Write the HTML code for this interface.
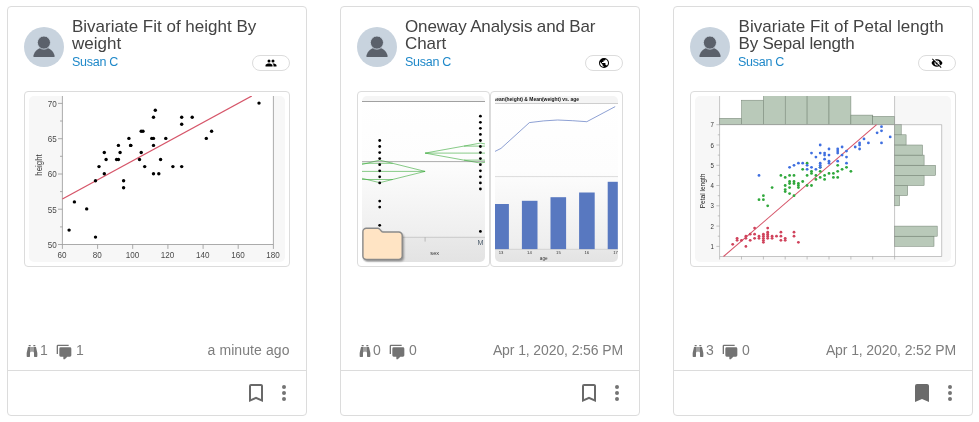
<!DOCTYPE html>
<html lang="en">
<head>
<meta charset="utf-8">
<title>Posts</title>
<style>
*{box-sizing:border-box}
html,body{margin:0;padding:0;background:#fff}
body{width:979px;height:422px;overflow:hidden;position:relative;font-family:"Liberation Sans",sans-serif;color:#333}
.card{position:absolute;top:6px;width:300px;height:410px;border:1px solid #dcdcdc;border-radius:4px;background:#fff}
.card>*{position:absolute}
.avatar{left:16px;top:20px;width:40px;height:40px}
.avatar svg{display:block}
.title{left:64px;top:11px;margin:0;font-size:17px;line-height:17px;font-weight:400;color:#434343;white-space:nowrap}
.title span{display:block}
.author{left:64px;top:48px;font-size:12.5px;letter-spacing:-0.27px;line-height:15px;color:#1e88c9;white-space:nowrap}
.badge{left:244px;top:48px;width:38px;height:16px;border:1px solid #dcdcdc;border-radius:8px}
.badge svg{position:absolute;left:12px;top:1px}
.thumb{top:84px;height:176px;border:1px solid #dcdcdc;border-radius:4px;overflow:hidden;background:#fff}
.thumb .img{position:absolute;left:4px;top:4px}
.folder{position:absolute;left:0px;top:132px}
.stats{left:16px;top:334px;width:266px;height:20px;font-size:14px;line-height:20px;color:#7d7d7d}
.stats>*{position:absolute;top:-1px;white-space:nowrap}
.stats svg{display:block}
.foot{left:0;top:363px;width:298px;height:44px;border-top:1px solid #dcdcdc}
.foot svg{position:absolute}
</style>
</head>
<body>
<div class="card" style="left:7px">
<div class="avatar"><svg viewBox="0 0 24 24" width="40" height="40"><circle cx="12" cy="12" r="12" fill="#c8d3de"/><path fill="#5b616b" d="M5.6 17.4C6.2 14.6 9 12.2 12 12.2C15 12.2 17.8 14.6 18.4 17.4Q18.5 17.95 17.9 17.95H6.1Q5.5 17.95 5.6 17.4Z"/><circle cx="11.95" cy="9.35" r="3.95" fill="#5b616b" stroke="#c8d3de" stroke-width="0.55"/></svg></div>
<h3 class="title" style="left:64px"><span style="letter-spacing:0px">Bivariate Fit of height By</span><span style="letter-spacing:0px">weight</span></h3>
<div class="author">Susan C</div>
<div class="badge"><svg viewBox="0 0 24 24" width="12" height="12"><path d="M16 13C15.71 13 15.38 13 15.03 13.05C16.19 13.89 17 15 17 16.5V19H23V16.5C23 14.17 18.33 13 16 13M8 13C5.67 13 1 14.17 1 16.5V19H15V16.5C15 14.17 10.33 13 8 13M8 11A3 3 0 0 0 11 8A3 3 0 0 0 8 5A3 3 0 0 0 5 8A3 3 0 0 0 8 11M16 11A3 3 0 0 0 19 8A3 3 0 0 0 16 5A3 3 0 0 0 13 8A3 3 0 0 0 16 11Z"/></svg></div>
<div class="thumb" style="left:16px;width:266px"><svg class="img" width="256" height="166" viewBox="0 0 256 166">
<rect x="0" y="0" width="256" height="166" rx="5" fill="#f7f7f7"/>
<rect x="33.4" y="0" width="211.0" height="148.5" fill="#fff"/>
<path d="M33.4 0V148.5H244.4V0M29.0 148.5H33.4M29.0 113.2H33.4M29.0 78.0H33.4M29.0 42.7H33.4M29.0 7.4H33.4M31.0 130.9H33.4M31.0 95.6H33.4M31.0 60.3H33.4M31.0 25.0H33.4M33.4 148.5V152.9M68.6 148.5V152.9M103.7 148.5V152.9M138.9 148.5V152.9M174.1 148.5V152.9M209.2 148.5V152.9M244.4 148.5V152.9" stroke="#979797" stroke-width="0.8" fill="none"/>
<g font-family="'Liberation Sans',sans-serif" font-size="9.2" fill="#4a4a4a">
<text transform="translate(27.8 151.8) scale(0.88 1)" text-anchor="end">50</text>
<text transform="translate(27.8 116.5) scale(0.88 1)" text-anchor="end">55</text>
<text transform="translate(27.8 81.2) scale(0.88 1)" text-anchor="end">60</text>
<text transform="translate(27.8 46.0) scale(0.88 1)" text-anchor="end">65</text>
<text transform="translate(27.8 10.7) scale(0.88 1)" text-anchor="end">70</text>
<text transform="translate(33.1 161.8) scale(0.88 1)" text-anchor="middle">60</text>
<text transform="translate(68.3 161.8) scale(0.88 1)" text-anchor="middle">80</text>
<text transform="translate(103.4 161.8) scale(0.88 1)" text-anchor="middle">100</text>
<text transform="translate(138.6 161.8) scale(0.88 1)" text-anchor="middle">120</text>
<text transform="translate(173.8 161.8) scale(0.88 1)" text-anchor="middle">140</text>
<text transform="translate(208.9 161.8) scale(0.88 1)" text-anchor="middle">160</text>
<text transform="translate(244.1 161.8) scale(0.88 1)" text-anchor="middle">180</text>
<text transform="translate(12.6 69.0) rotate(-90) scale(0.95 1)" text-anchor="middle" fill="#333" font-size="8.3">height</text>
</g>
<path d="M33.4 103.0L222.8 -0.0" stroke="#d6566a" stroke-width="1.3" fill="none"/>
<circle cx="94.6" cy="84.7" r="1.7"/>
<circle cx="143.9" cy="70.6" r="1.7"/>
<circle cx="57.7" cy="112.9" r="1.7"/>
<circle cx="182.6" cy="35.3" r="1.7"/>
<circle cx="40.1" cy="134.1" r="1.7"/>
<circle cx="75.3" cy="77.7" r="1.7"/>
<circle cx="152.7" cy="70.6" r="1.7"/>
<circle cx="66.5" cy="141.1" r="1.7"/>
<circle cx="124.5" cy="77.7" r="1.7"/>
<circle cx="115.7" cy="70.6" r="1.7"/>
<circle cx="45.4" cy="105.9" r="1.7"/>
<circle cx="99.9" cy="42.4" r="1.7"/>
<circle cx="112.2" cy="56.5" r="1.7"/>
<circle cx="94.6" cy="91.8" r="1.7"/>
<circle cx="66.5" cy="84.7" r="1.7"/>
<circle cx="70.0" cy="70.6" r="1.7"/>
<circle cx="87.6" cy="63.5" r="1.7"/>
<circle cx="177.3" cy="42.4" r="1.7"/>
<circle cx="75.3" cy="56.5" r="1.7"/>
<circle cx="77.1" cy="63.5" r="1.7"/>
<circle cx="91.1" cy="56.5" r="1.7"/>
<circle cx="101.7" cy="49.4" r="1.7"/>
<circle cx="136.8" cy="42.4" r="1.7"/>
<circle cx="89.4" cy="49.4" r="1.7"/>
<circle cx="124.5" cy="21.2" r="1.7"/>
<circle cx="101.7" cy="49.4" r="1.7"/>
<circle cx="126.3" cy="14.2" r="1.7"/>
<circle cx="89.4" cy="63.5" r="1.7"/>
<circle cx="124.5" cy="49.4" r="1.7"/>
<circle cx="152.7" cy="28.3" r="1.7"/>
<circle cx="122.8" cy="42.4" r="1.7"/>
<circle cx="112.2" cy="35.3" r="1.7"/>
<circle cx="110.5" cy="63.5" r="1.7"/>
<circle cx="114.0" cy="35.3" r="1.7"/>
<circle cx="124.5" cy="42.4" r="1.7"/>
<circle cx="129.8" cy="77.7" r="1.7"/>
<circle cx="152.7" cy="21.2" r="1.7"/>
<circle cx="131.6" cy="63.5" r="1.7"/>
<circle cx="163.2" cy="21.2" r="1.7"/>
<circle cx="230.0" cy="7.1" r="1.7"/>
</svg></div>
<div class="stats">
<span style="left:-0.5px;top:2px"><svg viewBox="0 0 24 24" width="16" height="16"><path fill="#737373" d="M11 6H13V13H11V6M9 20A1 1 0 0 1 8 21H5A1 1 0 0 1 4 20V15L6 6H10V13A1 1 0 0 1 9 14V20M10 5H7V3H10V5M15 20V14A1 1 0 0 1 14 13V6H18L20 15V20A1 1 0 0 1 19 21H16A1 1 0 0 1 15 20M14 5V3H17V5H14Z"/></svg></span><span style="left:16px">1</span>
<span style="left:32px;top:3px"><svg viewBox="0 0 24 24" width="16" height="16"><path fill="#737373" d="M12 23A1 1 0 0 1 11 22V19H7A2 2 0 0 1 5 17V7A2 2 0 0 1 7 5H21A2 2 0 0 1 23 7V17A2 2 0 0 1 21 19H16.9L13.2 22.71C13 22.89 12.76 23 12.5 23H12M3 15H1V3A2 2 0 0 1 3 1H19V3H3V15Z"/></svg></span><span style="left:52px">1</span>
<span style="right:0.5px;letter-spacing:0.08px">a minute ago</span>
</div>
<div class="foot"><span style="position:absolute;left:236px;top:10px"><svg viewBox="0 0 24 24" width="24" height="24"><path fill="#696969" d="M17 18L12 15.82L7 18V5H17M17 3H7A2 2 0 0 0 5 5V21L12 18L19 21V5C19 3.89 18.1 3 17 3Z"/></svg></span><span style="position:absolute;left:264px;top:10px"><svg viewBox="0 0 24 24" width="24" height="24"><path fill="#747474" d="M12 16A2 2 0 0 1 14 18A2 2 0 0 1 12 20A2 2 0 0 1 10 18A2 2 0 0 1 12 16M12 10A2 2 0 0 1 14 12A2 2 0 0 1 12 14A2 2 0 0 1 10 12A2 2 0 0 1 12 10M12 4A2 2 0 0 1 14 6A2 2 0 0 1 12 8A2 2 0 0 1 10 6A2 2 0 0 1 12 4Z"/></svg></span></div>
</div>
<div class="card" style="left:340px">
<div class="avatar"><svg viewBox="0 0 24 24" width="40" height="40"><circle cx="12" cy="12" r="12" fill="#c8d3de"/><path fill="#5b616b" d="M5.6 17.4C6.2 14.6 9 12.2 12 12.2C15 12.2 17.8 14.6 18.4 17.4Q18.5 17.95 17.9 17.95H6.1Q5.5 17.95 5.6 17.4Z"/><circle cx="11.95" cy="9.35" r="3.95" fill="#5b616b" stroke="#c8d3de" stroke-width="0.55"/></svg></div>
<h3 class="title" style="left:64px"><span style="letter-spacing:-0.145px">Oneway Analysis and Bar</span><span style="letter-spacing:-0.1px">Chart</span></h3>
<div class="author">Susan C</div>
<div class="badge"><svg viewBox="0 0 24 24" width="12" height="12"><path d="M17.9 17.39C17.64 16.59 16.89 16 16 16H15V13A1 1 0 0 0 14 12H8V10H10A1 1 0 0 0 11 9V7H13A2 2 0 0 0 15 5V4.59C17.93 5.77 20 8.64 20 12C20 14.08 19.200000000000003 15.97 17.9 17.39M11 19.93C7.05 19.44 4 16.08 4 12C4 11.38 4.08 10.780000000000001 4.21 10.21L9 15V16A2 2 0 0 0 11 18M12 2A10 10 0 0 0 2 12A10 10 0 0 0 12 22A10 10 0 0 0 22 12A10 10 0 0 0 12 2Z"/></svg></div>
<div class="thumb" style="left:16px;width:133px"><svg class="img" width="123" height="166" viewBox="0 0 123 166">
<defs><linearGradient id="g2a" x1="0" y1="0" x2="0" y2="1"><stop offset="0" stop-color="#ffffff"/><stop offset="0.4" stop-color="#fdfdfd"/><stop offset="0.85" stop-color="#eeeeee"/><stop offset="1" stop-color="#e8e8e8"/></linearGradient><clipPath id="c2a"><rect x="0" y="0" width="123" height="166" rx="5"/></clipPath></defs>
<g clip-path="url(#c2a)">
<rect x="0" y="0" width="123" height="166" fill="url(#g2a)"/>
<rect x="0" y="0" width="123" height="5.5" fill="#f5f5f5"/>
<rect x="0" y="141.3" width="123" height="25" fill="#000" opacity="0.02"/>
<path d="M0 5.5H123" stroke="#8a8a8a" stroke-width="0.8"/>
<path d="M0 65.6H123" stroke="#8a8a8a" stroke-width="0.7"/>
<path d="M30 141.3H123" stroke="#c0c0c0" stroke-width="0.8"/><path d="M63.1 141.3v4.3" stroke="#999" stroke-width="0.6"/>
<g fill="none" stroke="#38a838" stroke-width="0.6">
<path d="M-27.7 75.4L17.7 64.1L63.1 75.4L17.7 86.7Z"/><path d="M0 75.4H63.1M0 67.3H30.7M0 83.5H30.7"/>
<path d="M63.1 57.1L118.4 47.1L173.7 57.1L118.4 67.1Z"/><path d="M63.1 57.1H123M102 50.1H123M102 64.1H123"/>
</g>
<circle cx="17.7" cy="44.5" r="1.4"/>
<circle cx="17.7" cy="50.5" r="1.4"/>
<circle cx="17.7" cy="56.6" r="1.4"/>
<circle cx="17.7" cy="62.6" r="1.4"/>
<circle cx="17.7" cy="68.7" r="1.4"/>
<circle cx="17.7" cy="74.8" r="1.4"/>
<circle cx="17.7" cy="80.8" r="1.4"/>
<circle cx="17.7" cy="86.9" r="1.4"/>
<circle cx="17.7" cy="105.1" r="1.4"/>
<circle cx="17.7" cy="111.1" r="1.4"/>
<circle cx="17.7" cy="129.3" r="1.4"/>
<circle cx="118.4" cy="20.2" r="1.4"/>
<circle cx="118.4" cy="26.3" r="1.4"/>
<circle cx="118.4" cy="32.3" r="1.4"/>
<circle cx="118.4" cy="38.4" r="1.4"/>
<circle cx="118.4" cy="44.5" r="1.4"/>
<circle cx="118.4" cy="50.5" r="1.4"/>
<circle cx="118.4" cy="56.6" r="1.4"/>
<circle cx="118.4" cy="62.6" r="1.4"/>
<circle cx="118.4" cy="68.7" r="1.4"/>
<circle cx="118.4" cy="74.8" r="1.4"/>
<circle cx="118.4" cy="80.8" r="1.4"/>
<circle cx="118.4" cy="86.9" r="1.4"/>
<circle cx="118.4" cy="93.0" r="1.4"/>
<circle cx="118.4" cy="135.4" r="1.4"/>
<g font-family="'Liberation Sans',sans-serif" text-anchor="middle">
<text x="118.4" y="149.4" font-size="7.2" fill="#4a5a6a">M</text>
<text x="72.7" y="158.8" font-size="5.6" fill="#333">sex</text>
</g>
</g></svg><svg class="folder" width="52" height="42" viewBox="0 0 52 42"><defs><filter id="fs" x="-20%" y="-20%" width="150%" height="150%"><feGaussianBlur stdDeviation="1.2"/></filter></defs><path d="M8.4 4.2H19.6Q20.8 4.2 21.6 5.1L23.3 7.1Q24 8 25.2 8H40.7A3.5 3.5 0 0 1 44.2 11.5V32A3.5 3.5 0 0 1 40.7 35.5H8.4A3.5 3.5 0 0 1 4.9 32V7.7A3.5 3.5 0 0 1 8.4 4.2Z" fill="#000" opacity=".4" filter="url(#fs)" transform="translate(1.6 1.8)"/><path d="M8.4 4.2H19.6Q20.8 4.2 21.6 5.1L23.3 7.1Q24 8 25.2 8H40.7A3.5 3.5 0 0 1 44.2 11.5V32A3.5 3.5 0 0 1 40.7 35.5H8.4A3.5 3.5 0 0 1 4.9 32V7.7A3.5 3.5 0 0 1 8.4 4.2Z" fill="#ffe4c4" stroke="#8a8a8a" stroke-width="1.4"/></svg></div><div class="thumb" style="left:149px;width:133px"><svg class="img" width="123" height="166" viewBox="0 0 123 166">
<defs><linearGradient id="g2b" x1="0" y1="0" x2="0" y2="1"><stop offset="0" stop-color="#ffffff"/><stop offset="0.45" stop-color="#fdfdfd"/><stop offset="0.9" stop-color="#eeeeee"/><stop offset="1" stop-color="#e8e8e8"/></linearGradient><clipPath id="c2b"><rect x="0" y="0" width="123" height="166" rx="5"/></clipPath></defs>
<g clip-path="url(#c2b)">
<rect x="0" y="0" width="123" height="166" fill="url(#g2b)"/>
<rect x="0" y="0" width="123" height="7.5" fill="#f4f4f4"/>
<rect x="0" y="153.1" width="123" height="13" fill="#000" opacity="0.02"/>
<path d="M0 7.5H123" stroke="#b0b0b0" stroke-width="0.6"/>
<path d="M0 80.6H123" stroke="#c4c4c4" stroke-width="0.6"/>
<path d="M0 153.3H123" stroke="#c4c4c4" stroke-width="0.6"/>
<path d="M0 55.4L6 52.4L34.4 26.6L48.7 24.9L62.6 24L77.5 24.7L91.8 25.7L120.2 10.6" fill="none" stroke="#5b77c0" stroke-width="0.7"/>
<rect x="0" y="108" width="13.9" height="45.1" fill="#5878c0"/>
<rect x="26.9" y="104.8" width="15.6" height="48.3" fill="#5878c0"/>
<rect x="55.5" y="101.2" width="15.6" height="51.9" fill="#5878c0"/>
<rect x="84.1" y="96.5" width="15.6" height="56.6" fill="#5878c0"/>
<rect x="112.7" y="85.8" width="10.1" height="67.3" fill="#5878c0"/>
<g font-family="'Liberation Sans',sans-serif" font-size="4.2" fill="#333" text-anchor="middle">
<text x="6" y="158.2">13</text>
<text x="34.4" y="158.2">14</text>
<text x="63.4" y="158.2">15</text>
<text x="91.8" y="158.2">16</text>
<text x="120.6" y="158.2">17</text>
<text x="48.7" y="164" font-size="4.6">age</text>
<text x="0" y="5.3" font-size="5" font-weight="bold" text-anchor="start" fill="#111" textLength="84" lengthAdjust="spacingAndGlyphs">lean(height) &amp; Mean(weight) vs. age</text>
</g>
</g></svg></div>
<div class="stats">
<span style="left:-0.5px;top:2px"><svg viewBox="0 0 24 24" width="16" height="16"><path fill="#737373" d="M11 6H13V13H11V6M9 20A1 1 0 0 1 8 21H5A1 1 0 0 1 4 20V15L6 6H10V13A1 1 0 0 1 9 14V20M10 5H7V3H10V5M15 20V14A1 1 0 0 1 14 13V6H18L20 15V20A1 1 0 0 1 19 21H16A1 1 0 0 1 15 20M14 5V3H17V5H14Z"/></svg></span><span style="left:16px">0</span>
<span style="left:32px;top:3px"><svg viewBox="0 0 24 24" width="16" height="16"><path fill="#737373" d="M12 23A1 1 0 0 1 11 22V19H7A2 2 0 0 1 5 17V7A2 2 0 0 1 7 5H21A2 2 0 0 1 23 7V17A2 2 0 0 1 21 19H16.9L13.2 22.71C13 22.89 12.76 23 12.5 23H12M3 15H1V3A2 2 0 0 1 3 1H19V3H3V15Z"/></svg></span><span style="left:52px">0</span>
<span style="right:0px;letter-spacing:-0.11px">Apr 1, 2020, 2:56 PM</span>
</div>
<div class="foot"><span style="position:absolute;left:236px;top:10px"><svg viewBox="0 0 24 24" width="24" height="24"><path fill="#696969" d="M17 18L12 15.82L7 18V5H17M17 3H7A2 2 0 0 0 5 5V21L12 18L19 21V5C19 3.89 18.1 3 17 3Z"/></svg></span><span style="position:absolute;left:264px;top:10px"><svg viewBox="0 0 24 24" width="24" height="24"><path fill="#747474" d="M12 16A2 2 0 0 1 14 18A2 2 0 0 1 12 20A2 2 0 0 1 10 18A2 2 0 0 1 12 16M12 10A2 2 0 0 1 14 12A2 2 0 0 1 12 14A2 2 0 0 1 10 12A2 2 0 0 1 12 10M12 4A2 2 0 0 1 14 6A2 2 0 0 1 12 8A2 2 0 0 1 10 6A2 2 0 0 1 12 4Z"/></svg></span></div>
</div>
<div class="card" style="left:673px">
<div class="avatar"><svg viewBox="0 0 24 24" width="40" height="40"><circle cx="12" cy="12" r="12" fill="#c8d3de"/><path fill="#5b616b" d="M5.6 17.4C6.2 14.6 9 12.2 12 12.2C15 12.2 17.8 14.6 18.4 17.4Q18.5 17.95 17.9 17.95H6.1Q5.5 17.95 5.6 17.4Z"/><circle cx="11.95" cy="9.35" r="3.95" fill="#5b616b" stroke="#c8d3de" stroke-width="0.55"/></svg></div>
<h3 class="title" style="left:64.5px"><span style="letter-spacing:0.07px">Bivariate Fit of Petal length</span><span style="letter-spacing:-0.2px">By Sepal length</span></h3>
<div class="author">Susan C</div>
<div class="badge"><svg viewBox="0 0 24 24" width="12" height="12"><path d="M11.83 9L15 12.16C15 12.11 15 12.05 15 12A3 3 0 0 0 12 9C11.94 9 11.89 9 11.83 9M7.53 9.8L9.08 11.35C9.030000000000001 11.56 9 11.77 9 12A3 3 0 0 0 12 15C12.22 15 12.44 14.97 12.65 14.92L14.2 16.47C13.53 16.8 12.79 17 12 17A5 5 0 0 1 7 12C7 11.21 7.2 10.47 7.53 9.8M2 4.27L4.28 6.55L4.73 7C3.08 8.3 1.78 10 1 12C2.73 16.39 7 19.5 12 19.5C13.55 19.5 15.030000000000001 19.2 16.38 18.66L16.81 19.08L19.73 22L21 20.73L3.27 3M12 7A5 5 0 0 1 17 12C17 12.64 16.87 13.26 16.64 13.82L19.57 16.75C21.07 15.5 22.27 13.86 23 12C21.27 7.61 17 4.5 12 4.5C10.6 4.5 9.26 4.75 8 5.2L10.17 7.35C10.74 7.13 11.35 7 12 7Z"/></svg></div>
<div class="thumb" style="left:16px;width:266px"><svg class="img" width="256" height="166" viewBox="0 0 256 166">
<rect x="0" y="0" width="256" height="166" rx="5" fill="#f7f7f7"/>
<rect x="24.6" y="0" width="175.0" height="160.5" fill="#fff"/>
<rect x="199.6" y="28.7" width="47.1" height="131.8" fill="#fff"/>
<g fill="#b9c9b9" stroke="#6f7f6f" stroke-width="0.5">
<rect x="24.6" y="22.3" width="21.9" height="6.4"/>
<rect x="46.5" y="4.2" width="21.9" height="24.5"/>
<rect x="68.4" y="-12.3" width="21.9" height="41.0"/>
<rect x="90.2" y="-13.3" width="21.9" height="42.0"/>
<rect x="112.1" y="-14.3" width="21.9" height="43.0"/>
<rect x="134.0" y="-1.3" width="21.9" height="30.0"/>
<rect x="155.9" y="19.1" width="21.9" height="9.6"/>
<rect x="177.7" y="20.4" width="21.9" height="8.3"/>
<rect x="199.6" y="140.2" width="39.4" height="10.1"/>
<rect x="199.6" y="130.1" width="42.6" height="10.1"/>
<rect x="199.6" y="99.7" width="4.9" height="10.1"/>
<rect x="199.6" y="89.5" width="13.1" height="10.1"/>
<rect x="199.6" y="79.4" width="29.5" height="10.1"/>
<rect x="199.6" y="69.3" width="41.0" height="10.1"/>
<rect x="199.6" y="59.1" width="29.5" height="10.1"/>
<rect x="199.6" y="49.0" width="27.9" height="10.1"/>
<rect x="199.6" y="38.8" width="11.5" height="10.1"/>
<rect x="199.6" y="28.7" width="6.6" height="10.1"/>
</g>
<path d="M24.6 0V160.5H246.7V28.7H24.6M199.6 0V160.5M21.4 150.4H24.6M21.4 130.1H24.6M21.4 109.8H24.6M21.4 89.5H24.6M21.4 69.3H24.6M21.4 49.0H24.6M21.4 28.7H24.6M22.8 140.2H24.6M22.8 119.9H24.6M22.8 99.7H24.6M22.8 79.4H24.6M22.8 59.1H24.6M22.8 38.8H24.6M24.6 160.5V163.5M46.5 160.5V163.5M68.4 160.5V163.5M90.2 160.5V163.5M112.1 160.5V163.5M134.0 160.5V163.5M155.9 160.5V163.5M177.7 160.5V163.5M199.6 160.5V163.5" stroke="#a0a0a0" stroke-width="0.6" fill="none"/>
<g font-family="'Liberation Sans',sans-serif" font-size="6.8" fill="#333">
<text transform="translate(18.8 152.9) scale(0.9 1)" text-anchor="end">1</text>
<text transform="translate(18.8 132.6) scale(0.9 1)" text-anchor="end">2</text>
<text transform="translate(18.8 112.3) scale(0.9 1)" text-anchor="end">3</text>
<text transform="translate(18.8 92.0) scale(0.9 1)" text-anchor="end">4</text>
<text transform="translate(18.8 71.8) scale(0.9 1)" text-anchor="end">5</text>
<text transform="translate(18.8 51.5) scale(0.9 1)" text-anchor="end">6</text>
<text transform="translate(18.8 31.2) scale(0.9 1)" text-anchor="end">7</text>
<text transform="translate(10.2 95.0) rotate(-90) scale(0.95 1)" text-anchor="middle" fill="#222" font-size="6.9">Petal length</text>
</g>
<path d="M28.5 160.5L181.6 28.7" stroke="#d6566a" stroke-width="1.1" fill="none"/>
<g fill="#d0435c">
<circle cx="72.7" cy="142.3" r="1.4"/>
<circle cx="64.0" cy="142.3" r="1.4"/>
<circle cx="55.2" cy="144.3" r="1.4"/>
<circle cx="50.9" cy="140.2" r="1.4"/>
<circle cx="68.4" cy="142.3" r="1.4"/>
<circle cx="85.9" cy="136.2" r="1.4"/>
<circle cx="50.9" cy="142.3" r="1.4"/>
<circle cx="68.4" cy="140.2" r="1.4"/>
<circle cx="42.1" cy="142.3" r="1.4"/>
<circle cx="64.0" cy="140.2" r="1.4"/>
<circle cx="85.9" cy="140.2" r="1.4"/>
<circle cx="59.6" cy="138.2" r="1.4"/>
<circle cx="59.6" cy="142.3" r="1.4"/>
<circle cx="37.7" cy="148.3" r="1.4"/>
<circle cx="103.4" cy="146.3" r="1.4"/>
<circle cx="99.0" cy="140.2" r="1.4"/>
<circle cx="85.9" cy="144.3" r="1.4"/>
<circle cx="99.0" cy="136.2" r="1.4"/>
<circle cx="72.7" cy="140.2" r="1.4"/>
<circle cx="50.9" cy="150.4" r="1.4"/>
<circle cx="72.7" cy="136.2" r="1.4"/>
<circle cx="59.6" cy="132.1" r="1.4"/>
<circle cx="68.4" cy="138.2" r="1.4"/>
<circle cx="77.1" cy="140.2" r="1.4"/>
<circle cx="77.1" cy="142.3" r="1.4"/>
<circle cx="55.2" cy="138.2" r="1.4"/>
<circle cx="90.2" cy="142.3" r="1.4"/>
<circle cx="68.4" cy="146.3" r="1.4"/>
<circle cx="90.2" cy="144.3" r="1.4"/>
<circle cx="42.1" cy="144.3" r="1.4"/>
<circle cx="68.4" cy="144.3" r="1.4"/>
<circle cx="46.5" cy="144.3" r="1.4"/>
<circle cx="72.7" cy="132.1" r="1.4"/>
<circle cx="72.7" cy="138.2" r="1.4"/>
<circle cx="81.5" cy="140.2" r="1.4"/>
</g>
<g fill="#30a83c">
<circle cx="155.9" cy="75.3" r="1.4"/>
<circle cx="129.6" cy="79.4" r="1.4"/>
<circle cx="151.5" cy="71.3" r="1.4"/>
<circle cx="90.2" cy="89.5" r="1.4"/>
<circle cx="134.0" cy="77.4" r="1.4"/>
<circle cx="99.0" cy="79.4" r="1.4"/>
<circle cx="125.2" cy="75.3" r="1.4"/>
<circle cx="64.0" cy="103.7" r="1.4"/>
<circle cx="138.4" cy="77.4" r="1.4"/>
<circle cx="77.1" cy="91.6" r="1.4"/>
<circle cx="68.4" cy="99.7" r="1.4"/>
<circle cx="107.7" cy="85.5" r="1.4"/>
<circle cx="112.1" cy="89.5" r="1.4"/>
<circle cx="116.5" cy="75.3" r="1.4"/>
<circle cx="94.6" cy="97.6" r="1.4"/>
<circle cx="142.7" cy="81.4" r="1.4"/>
<circle cx="94.6" cy="79.4" r="1.4"/>
<circle cx="103.4" cy="87.5" r="1.4"/>
<circle cx="120.9" cy="79.4" r="1.4"/>
<circle cx="94.6" cy="91.6" r="1.4"/>
<circle cx="107.7" cy="73.3" r="1.4"/>
<circle cx="116.5" cy="89.5" r="1.4"/>
<circle cx="125.2" cy="71.3" r="1.4"/>
<circle cx="129.6" cy="83.4" r="1.4"/>
<circle cx="138.4" cy="81.4" r="1.4"/>
<circle cx="147.1" cy="73.3" r="1.4"/>
<circle cx="142.7" cy="69.3" r="1.4"/>
<circle cx="112.1" cy="79.4" r="1.4"/>
<circle cx="99.0" cy="99.7" r="1.4"/>
<circle cx="90.2" cy="93.6" r="1.4"/>
<circle cx="90.2" cy="95.6" r="1.4"/>
<circle cx="103.4" cy="91.6" r="1.4"/>
<circle cx="112.1" cy="67.2" r="1.4"/>
<circle cx="85.9" cy="79.4" r="1.4"/>
<circle cx="142.7" cy="75.3" r="1.4"/>
<circle cx="125.2" cy="81.4" r="1.4"/>
<circle cx="94.6" cy="87.5" r="1.4"/>
<circle cx="90.2" cy="81.4" r="1.4"/>
<circle cx="116.5" cy="77.4" r="1.4"/>
<circle cx="103.4" cy="89.5" r="1.4"/>
<circle cx="68.4" cy="103.7" r="1.4"/>
<circle cx="94.6" cy="85.5" r="1.4"/>
<circle cx="99.0" cy="85.5" r="1.4"/>
<circle cx="120.9" cy="83.4" r="1.4"/>
<circle cx="72.7" cy="109.8" r="1.4"/>
<circle cx="99.0" cy="87.5" r="1.4"/>
</g>
<g fill="#3f6fe0">
<circle cx="125.2" cy="49.0" r="1.4"/>
<circle cx="103.4" cy="67.2" r="1.4"/>
<circle cx="160.2" cy="51.0" r="1.4"/>
<circle cx="125.2" cy="57.1" r="1.4"/>
<circle cx="134.0" cy="53.0" r="1.4"/>
<circle cx="182.1" cy="36.8" r="1.4"/>
<circle cx="64.0" cy="79.4" r="1.4"/>
<circle cx="169.0" cy="42.9" r="1.4"/>
<circle cx="142.7" cy="53.0" r="1.4"/>
<circle cx="164.6" cy="46.9" r="1.4"/>
<circle cx="134.0" cy="67.2" r="1.4"/>
<circle cx="129.6" cy="63.2" r="1.4"/>
<circle cx="147.1" cy="59.1" r="1.4"/>
<circle cx="99.0" cy="69.3" r="1.4"/>
<circle cx="134.0" cy="59.1" r="1.4"/>
<circle cx="186.5" cy="34.8" r="1.4"/>
<circle cx="186.5" cy="30.7" r="1.4"/>
<circle cx="112.1" cy="69.3" r="1.4"/>
<circle cx="151.5" cy="55.1" r="1.4"/>
<circle cx="94.6" cy="71.3" r="1.4"/>
<circle cx="125.2" cy="71.3" r="1.4"/>
<circle cx="142.7" cy="55.1" r="1.4"/>
<circle cx="164.6" cy="49.0" r="1.4"/>
<circle cx="120.9" cy="73.3" r="1.4"/>
<circle cx="116.5" cy="71.3" r="1.4"/>
<circle cx="129.6" cy="57.1" r="1.4"/>
<circle cx="164.6" cy="53.0" r="1.4"/>
<circle cx="173.4" cy="46.9" r="1.4"/>
<circle cx="195.2" cy="40.9" r="1.4"/>
<circle cx="125.2" cy="67.2" r="1.4"/>
<circle cx="116.5" cy="57.1" r="1.4"/>
<circle cx="186.5" cy="46.9" r="1.4"/>
<circle cx="129.6" cy="59.1" r="1.4"/>
<circle cx="112.1" cy="73.3" r="1.4"/>
<circle cx="151.5" cy="61.1" r="1.4"/>
<circle cx="142.7" cy="57.1" r="1.4"/>
<circle cx="151.5" cy="67.2" r="1.4"/>
<circle cx="147.1" cy="51.0" r="1.4"/>
<circle cx="142.7" cy="65.2" r="1.4"/>
<circle cx="125.2" cy="69.3" r="1.4"/>
<circle cx="134.0" cy="65.2" r="1.4"/>
<circle cx="120.9" cy="61.1" r="1.4"/>
<circle cx="107.7" cy="67.2" r="1.4"/>
</g>
</svg></div>
<div class="stats">
<span style="left:-0.5px;top:2px"><svg viewBox="0 0 24 24" width="16" height="16"><path fill="#737373" d="M11 6H13V13H11V6M9 20A1 1 0 0 1 8 21H5A1 1 0 0 1 4 20V15L6 6H10V13A1 1 0 0 1 9 14V20M10 5H7V3H10V5M15 20V14A1 1 0 0 1 14 13V6H18L20 15V20A1 1 0 0 1 19 21H16A1 1 0 0 1 15 20M14 5V3H17V5H14Z"/></svg></span><span style="left:16px">3</span>
<span style="left:32px;top:3px"><svg viewBox="0 0 24 24" width="16" height="16"><path fill="#737373" d="M12 23A1 1 0 0 1 11 22V19H7A2 2 0 0 1 5 17V7A2 2 0 0 1 7 5H21A2 2 0 0 1 23 7V17A2 2 0 0 1 21 19H16.9L13.2 22.71C13 22.89 12.76 23 12.5 23H12M3 15H1V3A2 2 0 0 1 3 1H19V3H3V15Z"/></svg></span><span style="left:52px">0</span>
<span style="right:0px;letter-spacing:-0.11px">Apr 1, 2020, 2:52 PM</span>
</div>
<div class="foot"><span style="position:absolute;left:236px;top:10px"><svg viewBox="0 0 24 24" width="24" height="24"><path fill="#6b6b6b" d="M17 3H7A2 2 0 0 0 5 5V21L12 18L19 21V5C19 3.89 18.1 3 17 3Z"/></svg></span><span style="position:absolute;left:264px;top:10px"><svg viewBox="0 0 24 24" width="24" height="24"><path fill="#747474" d="M12 16A2 2 0 0 1 14 18A2 2 0 0 1 12 20A2 2 0 0 1 10 18A2 2 0 0 1 12 16M12 10A2 2 0 0 1 14 12A2 2 0 0 1 12 14A2 2 0 0 1 10 12A2 2 0 0 1 12 10M12 4A2 2 0 0 1 14 6A2 2 0 0 1 12 8A2 2 0 0 1 10 6A2 2 0 0 1 12 4Z"/></svg></span></div>
</div>
</body>
</html>
